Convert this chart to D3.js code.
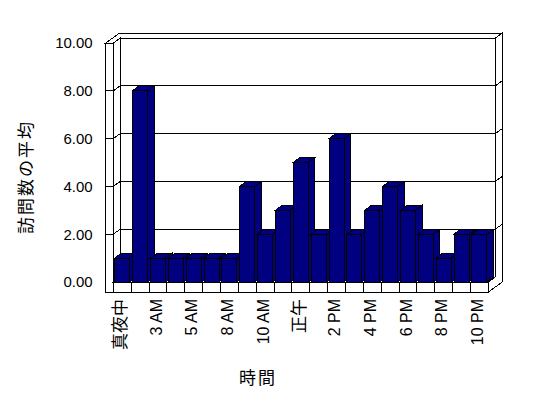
<!DOCTYPE html>
<html>
<head>
<meta charset="utf-8">
<script src="https://cdn.jsdelivr.net/npm/d3@7"></script>
<style>
  html, body { margin: 0; padding: 0; background: #fff; }
  svg text { font-family: "Liberation Sans", "Noto Sans CJK JP", sans-serif; fill: #000; }
</style>
</head>
<body>
<svg id="chart" width="548" height="398"></svg>
<script>
// 時間帯ごとの訪問数の平均 (3D 縦棒)
var hours  = ["真夜中", "1 AM", "3 AM", "4 AM", "5 AM", "7 AM", "8 AM", "9 AM", "10 AM", "11 AM", "正午",
              "1 PM", "2 PM", "3 PM", "4 PM", "5 PM", "6 PM", "7 PM", "8 PM", "9 PM", "10 PM"];
var visits = [1, 8, 1, 1, 1, 1, 1, 4, 2, 3, 5, 2, 6, 2, 3, 4, 3, 2, 1, 2, 2];
var yTicks = [0, 2, 4, 6, 8, 10];
var yTitle = "訪問数の平均";
var xTitle = "時間";

(function () {
  "use strict";

  var L0 = 105.7, L1 = 113.3, R = 488.3;      // 左壁の外側/内側, 右端 (手前の面)
  var Y0 = 282, Y10 = 43, FLOOR = 292;         // 値 0 / 10 の高さ, 床の下端
  var DX = 7, DY = -5;                         // 奥行き 1 段ぶんのずれ
  var BDX = 6.6, BDY = -5;                     // 棒の奥行き
  var BAR = "#000080";

  var svg = d3.select("#chart");
  var x = d3.scaleBand().domain(hours).range([L1, R]).paddingInner(0.16).paddingOuter(0.08);
  var y = d3.scaleLinear().domain([0, 10]).range([Y0, Y10]);

  function P(px, py, z) { return [px + DX * z, py + DY * z]; }
  function poly(pts) { return "M" + pts.map(function (p) { return p[0] + "," + p[1]; }).join("L") + "Z"; }
  function seg(a, b) { return "M" + a[0] + "," + a[1] + "L" + b[0] + "," + b[1]; }

  var box = svg.append("g").attr("fill", "#fff").attr("stroke", "#000").attr("stroke-width", 1)
    .attr("shape-rendering", "crispEdges");
  // 上面 (左壁 + 奥の壁)
  box.append("path").attr("d", poly([P(L0, Y10, 0), P(L0, Y10, 2), P(R, Y10, 2), P(R, Y10, 1), P(L1, Y10, 1), P(L1, Y10, 0)]));
  // 左壁 手前の面
  box.append("path").attr("d", poly([P(L0, Y10, 0), P(L1, Y10, 0), P(L1, FLOOR, 0), P(L0, FLOOR, 0)]));
  // 左壁 内側の面
  box.append("path").attr("d", poly([P(L1, Y10, 0), P(L1, Y10, 1), P(L1, Y0, 1), P(L1, Y0, 0)]));
  // 奥の壁
  box.append("path").attr("d", poly([P(L1, Y10, 1), P(R, Y10, 1), P(R, Y0, 1), P(L1, Y0, 1)]));
  // 右端の面
  box.append("path").attr("d", poly([P(R, Y10, 1), P(R, Y10, 2), P(R, FLOOR, 2), P(R, FLOOR, 0), P(R, Y0, 0), P(R, Y0, 1)]));
  // 床の上面と手前の面
  box.append("path").attr("d", poly([P(L1, Y0, 0), P(R, Y0, 0), P(R, Y0, 1), P(L1, Y0, 1)]));
  box.append("path").attr("d", poly([P(L1, Y0, 0), P(R, Y0, 0), P(R, FLOOR, 0), P(L1, FLOOR, 0)]));

  // 目盛線
  var grid = svg.append("g").attr("stroke", "#000").attr("fill", "none").attr("shape-rendering", "crispEdges");
  yTicks.filter(function (v) { return v > 0 && v < 10; }).forEach(function (v) {
    var yy = y(v);
    grid.append("path").attr("d",
      seg(P(L0, yy, 0), P(L1, yy, 0)) + seg(P(L1, yy, 0), P(L1, yy, 1)) +
      seg(P(L1, yy, 1), P(R, yy, 1)) + seg(P(R, yy, 1), P(R, yy, 2)));
  });
  // 床の区切り
  var step = x.step();
  hours.forEach(function (d, i) {
    if (i === 0) return;
    var xx = L1 + step * i;
    grid.append("path").attr("d", seg([xx, Y0], [xx, FLOOR]));
  });

  // 棒
  var bars = svg.append("g").attr("fill", BAR).attr("stroke", "#000").attr("stroke-linejoin", "miter")
    .attr("shape-rendering", "crispEdges");
  hours.forEach(function (d, i) {
    var x0 = x(d), x1 = x0 + x.bandwidth(), yt = y(visits[i]);
    var g = bars.append("g");
    g.append("path").attr("d", poly([[x1, yt], [x1 + BDX, yt + BDY], [x1 + BDX, Y0 + BDY], [x1, Y0]]));
    g.append("path").attr("d", poly([[x0, yt], [x1, yt], [x1 + BDX, yt + BDY], [x0 + BDX, yt + BDY]]));
    g.append("path").attr("d", poly([[x0, yt], [x1, yt], [x1, Y0], [x0, Y0]]));
  });

  // Y 軸ラベル
  var yAxis = svg.append("g").attr("transform", "translate(" + L0 + ",0)")
    .call(d3.axisLeft(y).tickValues(yTicks).tickFormat(d3.format(".2f")).tickSize(0).tickPadding(13));
  yAxis.select(".domain").remove();
  yAxis.selectAll("text").attr("font-size", 15).attr("fill", "#000").style("font-family", null);

  // X 軸ラベル (1 つおき)
  var xAxis = svg.append("g").attr("transform", "translate(0," + FLOOR + ")")
    .call(d3.axisBottom(x).tickValues(hours.filter(function (d, i) { return i % 2 === 0; })).tickSize(0));
  xAxis.select(".domain").remove();
  xAxis.selectAll("text")
    .style("font-family", null)
    .attr("fill", "#000")
    .attr("font-size", function (d) { return /[0-9A-Z]/.test(d) ? 16 : 17; })
    .attr("transform", "translate(-2,0) rotate(-90)")
    .attr("x", -7).attr("y", 0).attr("dy", "0.35em")
    .attr("text-anchor", "end");

  // 軸タイトル
  svg.append("text").attr("transform", "translate(32,177) rotate(-90)")
    .attr("text-anchor", "middle").attr("font-size", 17).attr("letter-spacing", 2).text(yTitle);
  svg.append("text").attr("x", 258).attr("y", 384)
    .attr("text-anchor", "middle").attr("font-size", 17).attr("letter-spacing", 2).text(xTitle);
})();
</script>
</body>
</html>
